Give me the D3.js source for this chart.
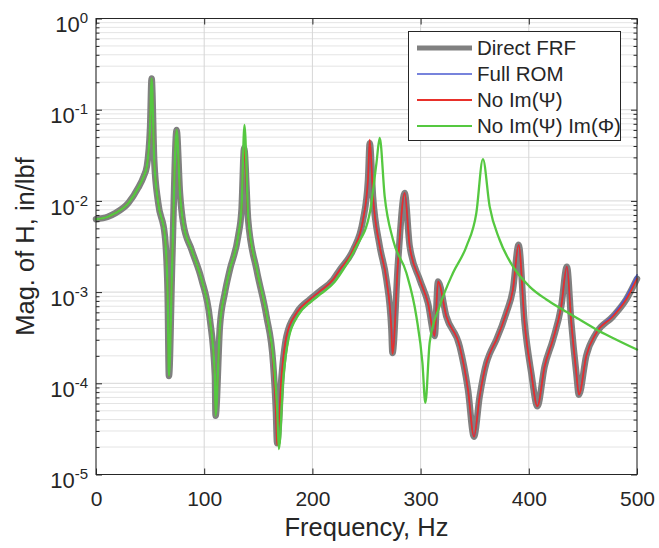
<!DOCTYPE html>
<html>
<head>
<meta charset="utf-8">
<script src="https://cdn.jsdelivr.net/npm/d3@7"></script>
<style>
  body { margin: 0; background: #fff; }
  text { font-family: "Liberation Sans", Arial, Helvetica, sans-serif; fill: #262626; }
</style>
</head>
<body>
<script>
// frequencies (Hz) shared by Direct FRF, Full ROM and No Im(Psi)
let freq = [0, 11, 17.5, 30, 39, 44, 47, 50, 51.4, 53.8, 57.5, 63.7, 66.2, 67.4, 70.5, 74.5, 77.6, 80.6, 88.4, 97.6,
  105.3, 109.9, 110.5, 114.5, 119.1, 123.7, 131.4, 134.5, 136.9, 140.6, 148.4, 157.6, 163.7, 166.2, 167.4, 171.5,
  176.1, 185.3, 197.6, 206.8, 219.1, 225.3, 237.6, 246.8, 251.4, 253, 256, 262.2, 268.4, 273, 274, 279.1, 285.3,
  289.9, 299.2, 306.8, 313, 316.1, 323.8, 336.1, 343.8, 349.3, 354.6, 360.8, 363.8, 370, 379.2, 385.3, 390.6,
  396.1, 402.3, 407.9, 414.6, 422.3, 430, 435.2, 439.3, 443.9, 446.3, 453.1, 462.3, 477.7, 490, 500];

// Direct FRF magnitude, in/lbf
let directMag = [6.3e-3, 6.7e-3, 7.3e-3, 9.5e-3, 1.39e-2, 1.85e-2, 2.4e-2, 6.5e-2, 0.22, 2.8e-2, 9.5e-3, 4.1e-3, 9.8e-4, 1.2e-4,
  2.3e-3, 6.0e-2, 1.22e-2, 5.7e-3, 2.9e-3, 1.37e-3, 5.0e-4, 1.2e-4, 4.4e-5, 4.2e-4, 9.8e-4, 1.76e-3, 4.1e-3, 8.0e-3,
  3.8e-2, 6.2e-3, 1.76e-3, 5.4e-4, 1.67e-4, 5.2e-5, 2.2e-5, 1.19e-4, 3.3e-4, 5.9e-4, 8.3e-4, 1.02e-3, 1.37e-3, 1.76e-3,
  2.9e-3, 6.2e-3, 1.7e-2, 4.3e-2, 1.12e-2, 3.2e-3, 1.37e-3, 3.9e-4, 2.15e-4, 2.1e-3, 1.22e-2, 3.2e-3, 1.37e-3, 7.6e-4,
  3.3e-4, 1.31e-3, 5.4e-4, 2.54e-4, 8.5e-5, 2.6e-5, 7.2e-5, 1.67e-4, 2.1e-4, 3.0e-4, 5.9e-4, 1.06e-3, 3.3e-3, 4.6e-4,
  1.3e-4, 5.6e-5, 1.53e-4, 3.0e-4, 7.0e-4, 1.9e-3, 4.6e-4, 1.3e-4, 7.5e-5, 2.0e-4, 3.56e-4, 5.4e-4, 8.3e-4, 1.4e-3];

// Full ROM magnitude
let fullRomMag = [6.3e-3, 6.7e-3, 7.3e-3, 9.5e-3, 1.39e-2, 1.85e-2, 2.4e-2, 6.5e-2, 0.22, 2.8e-2, 9.5e-3, 4.1e-3, 9.8e-4, 1.2e-4,
  2.3e-3, 6.0e-2, 1.22e-2, 5.7e-3, 2.9e-3, 1.37e-3, 5.0e-4, 1.2e-4, 4.4e-5, 4.2e-4, 9.8e-4, 1.76e-3, 4.1e-3, 8.0e-3,
  3.8e-2, 6.2e-3, 1.76e-3, 5.4e-4, 1.67e-4, 5.2e-5, 2.2e-5, 1.19e-4, 3.3e-4, 5.9e-4, 8.3e-4, 1.02e-3, 1.37e-3, 1.76e-3,
  2.9e-3, 6.2e-3, 1.7e-2, 4.4e-2, 1.12e-2, 3.2e-3, 1.37e-3, 3.9e-4, 2.15e-4, 2.1e-3, 1.22e-2, 3.2e-3, 1.37e-3, 7.6e-4,
  3.3e-4, 1.31e-3, 5.4e-4, 2.54e-4, 8.5e-5, 2.6e-5, 7.2e-5, 1.67e-4, 2.1e-4, 3.0e-4, 5.9e-4, 1.06e-3, 3.3e-3, 4.6e-4,
  1.3e-4, 5.6e-5, 1.53e-4, 3.0e-4, 7.0e-4, 1.9e-3, 4.6e-4, 1.3e-4, 7.5e-5, 2.0e-4, 3.6e-4, 5.6e-4, 8.9e-4, 1.55e-3];

// No Im(Psi) magnitude
let noImPsiMag = [6.3e-3, 6.7e-3, 7.3e-3, 9.5e-3, 1.39e-2, 1.85e-2, 2.4e-2, 6.5e-2, 0.22, 2.8e-2, 9.5e-3, 4.1e-3, 9.8e-4, 1.2e-4,
  2.3e-3, 6.0e-2, 1.22e-2, 5.7e-3, 2.9e-3, 1.37e-3, 5.0e-4, 1.2e-4, 4.4e-5, 4.2e-4, 9.8e-4, 1.76e-3, 4.1e-3, 8.0e-3,
  3.8e-2, 6.2e-3, 1.76e-3, 5.4e-4, 1.67e-4, 5.2e-5, 2.1e-5, 1.19e-4, 3.3e-4, 5.9e-4, 8.3e-4, 1.02e-3, 1.37e-3, 1.76e-3,
  2.9e-3, 6.2e-3, 1.75e-2, 4.7e-2, 1.12e-2, 3.2e-3, 1.37e-3, 3.9e-4, 2.1e-4, 2.1e-3, 1.22e-2, 3.2e-3, 1.37e-3, 7.6e-4,
  3.3e-4, 1.31e-3, 5.4e-4, 2.54e-4, 8.5e-5, 2.6e-5, 7.2e-5, 1.67e-4, 2.1e-4, 3.0e-4, 5.9e-4, 1.06e-3, 3.3e-3, 4.6e-4,
  1.3e-4, 5.6e-5, 1.53e-4, 3.0e-4, 7.0e-4, 1.9e-3, 4.6e-4, 1.3e-4, 7.5e-5, 2.0e-4, 3.56e-4, 5.4e-4, 8.3e-4, 1.4e-3];

// No Im(Psi) Im(Phi): own frequencies, peaks move above 250 Hz
let noBothFreq = [0, 11, 17.5, 30, 39, 44, 47, 50, 51.4, 53.8, 57.5, 63.7, 66.2, 67.4, 70.5, 74.5, 77.6, 80.6, 88.4, 97.6,
  105.3, 109.9, 110.5, 114.5, 119.1, 123.7, 131.4, 134.5, 137.2, 140.8, 148.6, 158, 164.5, 167.5, 169, 173, 178, 187,
  199, 208, 220, 225.3, 240.7, 253, 259.2, 262.2, 266.8, 274.5, 286.9, 296.1, 301.7, 304.4, 308.4, 317.6, 329.9,
  342.3, 351.5, 357.6, 363.8, 373, 385.3, 400.7, 416.2, 431.5, 446.9, 462.3, 477.7, 500];
let noBothMag = [6.3e-3, 6.7e-3, 7.3e-3, 9.5e-3, 1.39e-2, 1.85e-2, 2.4e-2, 6.5e-2, 0.22, 2.8e-2, 9.5e-3, 4.1e-3, 9.8e-4, 1.2e-4,
  2.3e-3, 6.0e-2, 1.22e-2, 5.7e-3, 2.9e-3, 1.37e-3, 5.0e-4, 1.2e-4, 4.4e-5, 4.2e-4, 9.8e-4, 1.76e-3, 4.1e-3, 8.5e-3,
  6.8e-2, 6.4e-3, 1.78e-3, 5.4e-4, 1.6e-4, 5.0e-5, 1.9e-5, 1.1e-4, 3.1e-4, 5.6e-4, 7.9e-4, 9.6e-4, 1.27e-3, 1.55e-3,
  3.16e-3, 7.35e-3, 2.6e-2, 4.9e-2, 1.12e-2, 3.75e-3, 1.62e-3, 5.4e-4, 1.67e-4, 6.1e-5, 2.8e-4, 7.0e-4, 1.62e-3,
  3.16e-3, 7.35e-3, 2.87e-2, 8.7e-3, 3.75e-3, 1.91e-3, 1.15e-3, 8.3e-4, 6.4e-4, 5.0e-4, 3.9e-4, 3.14e-4, 2.34e-4];

let xTicks = [0, 100, 200, 300, 400, 500];
let yTicks = [1e-5, 1e-4, 1e-3, 1e-2, 1e-1, 1];
let legendNames = ["Direct FRF", "Full ROM", "No Im(\u03A8)", "No Im(\u03A8) Im(\u03A6)"];

// SVG size and plot box
let svgWidth = 659;
let svgHeight = 548;
let plot = { left: 96, right: 637, top: 18.5, bottom: 474.5 };

let svg = d3.select("body")
  .append("svg")
  .attr("width", svgWidth)
  .attr("height", svgHeight);

let xScale = d3.scaleLinear().domain([0, 500]).range([plot.left, plot.right]);
let yScale = d3.scaleLog().domain([1e-5, 1]).range([plot.bottom, plot.top]);

// minor log ticks (2..9 in every decade)
let minorTicks = yScale.ticks().filter(v => yTicks.indexOf(v) < 0);

// grid
let grid = svg.append("g");
grid.selectAll(".minor")
  .data(minorTicks)
  .enter()
  .append("line")
  .attr("x1", plot.left).attr("x2", plot.right)
  .attr("y1", d => yScale(d)).attr("y2", d => yScale(d))
  .attr("stroke", "#e4e4e4")
  .attr("stroke-width", 1);
grid.selectAll(".major")
  .data(yTicks)
  .enter()
  .append("line")
  .attr("x1", plot.left).attr("x2", plot.right)
  .attr("y1", d => yScale(d)).attr("y2", d => yScale(d))
  .attr("stroke", "#d6d6d6")
  .attr("stroke-width", 1);
grid.selectAll(".vert")
  .data(xTicks)
  .enter()
  .append("line")
  .attr("x1", d => xScale(d)).attr("x2", d => xScale(d))
  .attr("y1", plot.top).attr("y2", plot.bottom)
  .attr("stroke", "#d6d6d6")
  .attr("stroke-width", 1);

// lines
let drawLine = (fs, ms) => d3.line()
  .x((d, i) => xScale(fs[i]))
  .y(d => yScale(d))
  .curve(d3.curveMonotoneX)(ms);

let series = [
  { f: freq, m: directMag, color: "#808080", width: 6.5 },
  { f: freq, m: fullRomMag, color: "#4a5ad0", width: 1.6 },
  { f: freq, m: noImPsiMag, color: "#e8302a", width: 1.8 },
  { f: noBothFreq, m: noBothMag, color: "#55c840", width: 2.3 }
];

let lines = svg.append("g");
series.forEach(s => {
  lines.append("path")
    .attr("d", drawLine(s.f, s.m))
    .attr("fill", "none")
    .attr("stroke", s.color)
    .attr("stroke-width", s.width)
    .attr("stroke-linejoin", "round")
    .attr("stroke-linecap", "round");
});

// axes, ticks point inward on all four sides
let fontTick = "21px";
let xAxisBottom = svg.append("g")
  .attr("transform", `translate(0, ${plot.bottom})`)
  .call(d3.axisBottom(xScale).tickValues(xTicks).tickSize(-6).tickSizeOuter(0).tickPadding(17));
xAxisBottom.selectAll("text").style("font-size", fontTick).attr("fill", "#262626");

svg.append("g")
  .attr("transform", `translate(0, ${plot.top})`)
  .call(d3.axisTop(xScale).tickValues(xTicks).tickSize(-6).tickSizeOuter(0).tickFormat(""));

let yAxisLeft = svg.append("g")
  .attr("transform", `translate(${plot.left}, 0)`)
  .call(d3.axisLeft(yScale).tickValues(yTicks).tickSize(-6).tickSizeOuter(0).tickPadding(8));

yAxisLeft.selectAll(".tick text").each(function (d) {
  let t = d3.select(this);
  t.text(null).attr("dy", "0.6em").style("font-size", "22px").attr("fill", "#262626");
  t.append("tspan").text("10");
  t.append("tspan").attr("dy", "-9px").style("font-size", "15px").text(Math.round(Math.log10(d)));
});

svg.append("g")
  .attr("transform", `translate(${plot.left}, 0)`)
  .call(d3.axisLeft(yScale).tickValues(minorTicks).tickSize(-3.5).tickSizeOuter(0).tickFormat(""));

svg.append("g")
  .attr("transform", `translate(${plot.right}, 0)`)
  .call(d3.axisRight(yScale).tickValues(yTicks).tickSize(-6).tickSizeOuter(0).tickFormat(""));
svg.append("g")
  .attr("transform", `translate(${plot.right}, 0)`)
  .call(d3.axisRight(yScale).tickValues(minorTicks).tickSize(-3.5).tickSizeOuter(0).tickFormat(""));

svg.selectAll(".domain").remove();
svg.selectAll(".tick line").attr("stroke", "#262626");

// plot box
svg.append("rect")
  .attr("x", plot.left).attr("y", plot.top)
  .attr("width", plot.right - plot.left).attr("height", plot.bottom - plot.top)
  .attr("fill", "none")
  .attr("stroke", "#262626")
  .attr("stroke-width", 1);

// axis labels
svg.append("text")
  .attr("x", (plot.left + plot.right) / 2)
  .attr("y", 536)
  .style("text-anchor", "middle")
  .style("font-size", "25.5px")
  .text("Frequency, Hz");

svg.append("text")
  .attr("transform", `translate(34, ${(plot.top + plot.bottom) / 2}) rotate(-90)`)
  .style("text-anchor", "middle")
  .style("font-size", "25.5px")
  .text("Mag. of H, in/lbf");

// legend
let legend = svg.append("g");
legend.append("rect")
  .attr("x", 408.5).attr("y", 31.5)
  .attr("width", 212).attr("height", 109)
  .attr("fill", "#fff")
  .attr("stroke", "#262626")
  .attr("stroke-width", 1);

let rowY = [48, 74, 100, 126];
legendNames.forEach((name, i) => {
  legend.append("line")
    .attr("x1", 417).attr("x2", 472)
    .attr("y1", rowY[i]).attr("y2", rowY[i])
    .attr("stroke", series[i].color)
    .attr("stroke-width", i === 0 ? 5 : Math.min(series[i].width, 1.8));
  legend.append("text")
    .attr("x", 477)
    .attr("y", rowY[i])
    .attr("dy", "0.36em")
    .style("font-size", "20.5px")
    .text(name);
});
</script>
</body>
</html>
